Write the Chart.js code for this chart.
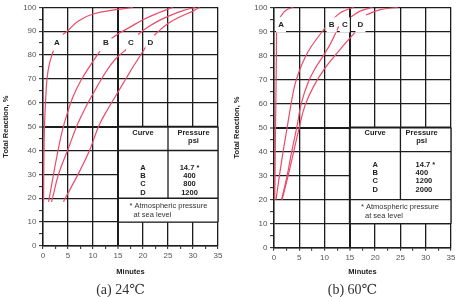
<!DOCTYPE html>
<html>
<head>
<meta charset="utf-8">
<script src="https://cdn.jsdelivr.net/npm/chart.js@4.4.1/dist/chart.umd.min.js"></script>
<style>
  body { margin: 0; background: #fff; width: 458px; height: 297px; overflow: hidden; position: relative; }
  canvas { position: absolute; top: 0; }
  #c24 { left: 0; }
  #c60 { left: 229px; }
  .cap { position: absolute; top: 281px; width: 229px; text-align: center; color: #333;
         font: 14px "Liberation Serif", "DejaVu Serif", serif; line-height: 18px; }
</style>
</head>
<body>
<canvas id="c24" width="229" height="297"></canvas>
<canvas id="c60" width="229" height="297"></canvas>
<div class="cap" style="left:6px">(a) 24℃</div>
<div class="cap" style="left:238px">(b) 60℃</div>

<script>
// ===== DONNÉES =====
const curveNames = ['A', 'B', 'C', 'D'];
const pressures24 = ['14.7 *', '400', '800', '1200'];
const pressures60 = ['14.7 *', '400', '1200', '2000'];

// [minutes, total reaction %] ; null = curve interrupted by its letter
const curveA24 = [[0.12, 18.5], [0.15, 30], [0.2, 40], [0.3, 50], [0.5, 60], [0.8, 70], [1.3, 76.5], [2.1, 82], [2.8, null],
  [4.0, 88.6], [5, 90.3], [7, 94.2], [10, 97.2], [15, 99.1], [18, 100]];
const curveB24 = [[1.1, 18.5], [1.25, 20], [2.1, 30], [3.0, 40], [4.0, 49.5], [5, 56.5], [6, 62.5], [7.5, 69], [9.5, 75.8], [11.4, 81.7], [12.6, null],
  [13.7, 87], [15.4, 89.3], [17.5, 91.8], [20, 94.8], [23, 97.6], [26, 100]];
const curveC24 = [[1.7, 18.5], [1.9, 20], [3.1, 30], [5.0, 40.5], [6.8, 50.5], [8.5, 58], [10.2, 64.5], [12, 71], [13.5, 75.8], [15, 79.4], [16.7, 82.4], [17.6, null],
  [19, 88.6], [21, 91.7], [23, 94.2], [25, 96.2], [28, 98.6], [30.5, 100]];
const curveD24 = [[4.1, 18.5], [4.45, 20], [7.0, 30], [9.3, 40], [11.2, 50.5], [13, 57.5], [15, 64.5], [16.7, 70.5], [18.2, 75.7], [20.6, 83.5], [21.5, null],
  [22.2, 88.2], [25, 93.2], [28, 96.6], [30, 98.4], [31.3, 100]];

const curveA60 = [[0.15, 20], [0.3, 50], [0.45, 75], [0.5, 89.5], [0.9, null], [1.2, 95.8], [1.8, 97.6], [2.6, 99.1], [3.8, 100]];
const curveB60 = [[0.4, 20], [1.5, 36], [2.6, 50], [3.4, 60], [4.1, 67.5], [5, 73.5], [6, 78.5], [7.3, 83.5], [10.1, 91.5], [11, null],
  [11.8, 95.5], [13.5, 98.2], [15.8, 100]];
const curveC60 = [[1.5, 20], [2.6, 30], [3.5, 40], [4.5, 50], [5.4, 60], [6.8, 69], [8.2, 74.8], [9.8, 80], [11.2, 85], [12.8, 92], [14, null],
  [15.2, 96], [17, 98.4], [19.5, 100]];
const curveD60 = [[1.6, 20], [2.8, 30], [3.9, 40], [5.0, 50], [6.1, 59], [7.8, 67], [10, 74.5], [12.5, 81], [14.3, 85.5], [16, 89.5], [17.1, null],
  [18.2, 96.8], [21, 99], [24.5, 100]];

// where the curve letters sit (minutes, %)
const tags24 = [[2.8, 85], [12.6, 85], [17.6, 85], [21.5, 85]];
const tags60 = [[1.4, 92.7], [11.4, 92.7], [14.0, 92.7], [17.1, 92.7]];

// ===== STYLE =====
const FONT = '"Liberation Sans", Arial, sans-serif';
const RED = '#ec4a66';
const GRID = '#1c1c1c';

// ===== TABLE + LETTRES =====
const tablePlugin = {
  id: 'pressTable',
  beforeDatasetsDraw(chart, args, o) {
    const { ctx, scales: { x, y } } = chart;
    const X = v => x.getPixelForValue(v);
    const Y = v => y.getPixelForValue(v);
    const line = (x1, y1, x2, y2, w) => {
      ctx.lineWidth = w;
      ctx.beginPath();
      ctx.moveTo(X(x1), Y(y1));
      ctx.lineTo(X(x2), Y(y2));
      ctx.stroke();
    };
    ctx.save();
    ctx.fillStyle = '#fff';
    ctx.fillRect(X(15), Y(50), X(35) - X(15), Y(10) - Y(50));
    ctx.strokeStyle = GRID;
    line(15, 50, 35, 50, 2);
    line(15, 10, 15, 50, 2);
    line(35, 10, 35, 50, 1.3);
    line(15, 40, 35, 40, 1.3);
    line(15, 20, 35, 20, 1.3);
    line(15, 10, 35, 10, 1.3);
    line(25, 20, 25, 50, 1.3);

    ctx.fillStyle = '#222';
    ctx.font = 'bold 7.5px ' + FONT;
    ctx.textBaseline = 'middle';
    ctx.textAlign = 'center';
    ctx.fillText('Curve', X(20), Y(o.headY));
    ctx.fillText('Pressure', X(o.pressX), Y(o.headY));
    ctx.fillText('psi', X(o.pressX), Y(o.headY - 3.1));
    curveNames.forEach((n, i) => {
      const yy = Y(o.rowY - i * o.rowStep);
      ctx.textAlign = 'center';
      ctx.fillText(n, X(20), yy);
      ctx.textAlign = o.valAlign;
      ctx.fillText(o.pressures[i], X(o.valX), yy);
    });

    ctx.font = '7.5px ' + FONT;
    ctx.fillStyle = '#333';
    ctx.textAlign = 'left';
    ctx.fillText('* Atmospheric pressure', X(o.noteX), Y(o.noteY));
    ctx.fillText('at sea level', X(o.noteX + 0.8), Y(o.noteY - 3.6));
    ctx.restore();
  },
  afterDatasetsDraw(chart, args, o) {
    const { ctx, scales: { x, y } } = chart;
    ctx.save();
    ctx.font = 'bold 8px ' + FONT;
    ctx.textAlign = 'center';
    ctx.textBaseline = 'middle';
    o.tags.forEach(([tx, ty], i) => {
      const px = x.getPixelForValue(tx), py = y.getPixelForValue(ty);
      ctx.fillStyle = '#fff';
      ctx.fillRect(px - 5, py - 7.5, 10, 15);
      ctx.fillStyle = '#222';
      ctx.fillText(curveNames[i], px, py);
    });
    ctx.restore();
  }
};

// ===== CHART FACTORY =====
function makeChart(id, curves, lay, table) {
  const ctx = document.getElementById(id).getContext('2d');
  return new Chart(ctx, {
    type: 'line',
    data: {
      datasets: curves.map((c, i) => ({
        label: curveNames[i],
        data: c.map(([m, p]) => ({ x: m, y: p })),
        borderColor: RED,
        borderWidth: 1.2,
        pointRadius: 0,
        tension: 0.4,
        spanGaps: false
      }))
    },
    plugins: [tablePlugin],
    options: {
      responsive: false,
      animation: false,
      layout: { padding: { top: lay.top, right: lay.right, left: 0, bottom: 0 } },
      plugins: {
        legend: { display: false },
        tooltip: { enabled: false },
        pressTable: table
      },
      scales: {
        x: {
          type: 'linear', min: 0, max: 35,
          afterFit: s => { s.height = lay.xh; },
          ticks: {
            stepSize: 2.5, autoSkip: false, maxRotation: 0, padding: 2,
            color: '#555', font: { family: FONT, size: 8 },
            callback: v => (v % 5 === 0 ? v : '')
          },
          grid: {
            color: c => (c.tick && c.tick.value % 5 === 0 ? GRID : 'rgba(0,0,0,0)'),
            lineWidth: c => (c.tick && c.tick.value === 15 ? 2 : 1.3),
            tickLength: 3, tickWidth: 1, tickColor: GRID
          },
          border: { color: GRID, width: 1.4 },
          title: {
            display: true, text: 'Minutes', color: '#222',
            font: { family: FONT, size: 7.5, weight: 'bold' },
            padding: { top: 0, bottom: lay.xtPad }
          }
        },
        y: {
          min: 0, max: 100,
          afterFit: s => { s.width = lay.left; },
          ticks: {
            stepSize: 5, autoSkip: false, padding: 2.5,
            color: '#555', font: { family: FONT, size: 8 },
            callback: v => (v % 10 === 0 ? v : '')
          },
          grid: {
            color: c => (c.tick && c.tick.value % 10 === 0 ? GRID : 'rgba(0,0,0,0)'),
            lineWidth: c => (c.tick && c.tick.value === 50 ? 2 : 1.3),
            tickLength: 4, tickWidth: 1, tickColor: GRID
          },
          border: { color: GRID, width: 1.4 },
          title: {
            display: true, text: 'Total Reaction, %', color: '#222',
            font: { family: FONT, size: 7.5, weight: 'bold' },
            padding: { top: lay.ytPad, bottom: 0 }
          }
        }
      }
    }
  });
}

makeChart('c24', [curveA24, curveB24, curveC24, curveD24],
  { top: 6, right: 11, left: 43, xh: 51, xtPad: 20.5, ytPad: 1 },
  { pressures: pressures24, headY: 47.2, pressX: 30.1, rowY: 32.9, rowStep: 3.55,
    valX: 29.3, valAlign: 'center', noteX: 17.3, noteY: 16.8, tags: tags24 });

makeChart('c60', [curveA60, curveB60, curveC60, curveD60],
  { top: 6, right: 7, left: 45, xh: 49.3, xtPad: 20.8, ytPad: 3.8 },
  { pressures: pressures60, headY: 47.7, pressX: 29.2, rowY: 34.6, rowStep: 3.5,
    valX: 28, valAlign: 'left', noteX: 17.2, noteY: 16.9, tags: tags60 });
</script>
</body>
</html>
